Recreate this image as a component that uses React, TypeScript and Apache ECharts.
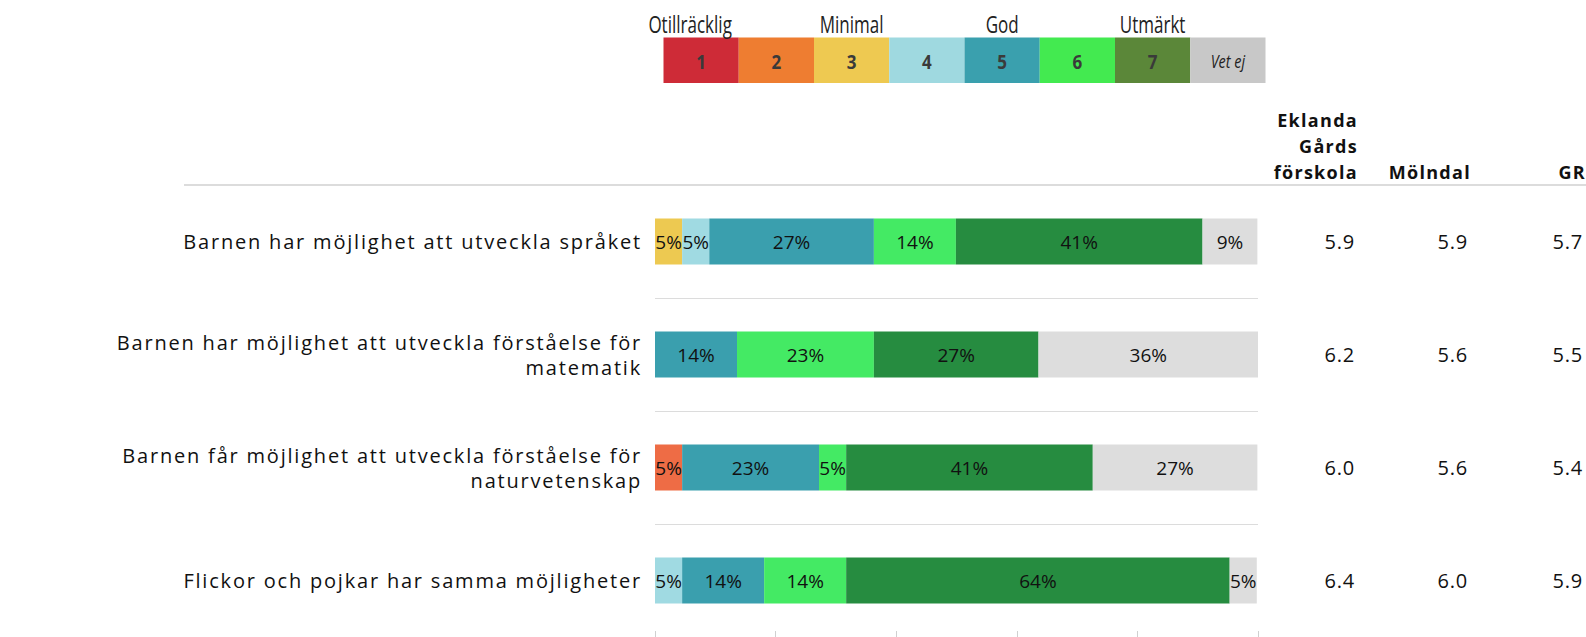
import React, { useEffect, useRef } from 'react';
import * as echarts from 'echarts';

const categories = [
  'Barnen har möjlighet att utveckla språket',
  'Barnen har möjlighet att utveckla förståelse för\nmatematik',
  'Barnen får möjlighet att utveckla förståelse för\nnaturvetenskap',
  'Flickor och pojkar har samma möjligheter',
];

const levelNames = ['1', '2', '3', '4', '5', '6', '7', 'Vet ej'];
const scaleWords = ['Otillräcklig', '', 'Minimal', '', 'God', '', 'Utmärkt', ''];

// share of answers (%) per level, per statement
const level1 = [null, null, null, null];
const level2 = [null, null, 4.5, null];
const level3 = [4.5, null, null, null];
const level4 = [4.5, null, null, 4.5];
const level5 = [27.3, 13.6, 22.7, 13.6];
const level6 = [13.6, 22.7, 4.5, 13.6];
const level7 = [40.9, 27.3, 40.9, 63.6];
const levelVetEj = [9.1, 36.4, 27.3, 4.5];

const columnHeaders = ['Eklanda\nGårds\nförskola', 'Mölndal', 'GR'];
const eklanda = [5.9, 6.2, 6.0, 6.4];
const molndal = [5.9, 5.6, 5.6, 6.0];
const gr = [5.7, 5.5, 5.4, 5.9];

const valueTicks = [0, 20, 40, 60, 80, 100];

const barColors = ['#CE2B37', '#EE6C45', '#EDC951', '#A0DAE2', '#3A9FAE', '#44EA64', '#268C40', '#DDDDDD'];
const legendColors = ['#CE2B37', '#EE7D31', '#EEC951', '#9FD9E0', '#3AA0AE', '#43EA50', '#5B8739', '#C8C8C8'];

// font stacks: the fallback names only serve to tell the groups apart for letter spacing
const FONT = '"Open Sans", sans-serif';
const CAT_FONT = '"Open Sans", "DejaVu Sans"';
const HEAD_FONT = '"Open Sans", "Liberation Sans"';
const VAL_FONT = '"Open Sans", Lato';

const css = `
text[style*="DejaVu Sans"] { letter-spacing: 1.8px; }
text[style*="Liberation Sans"] { letter-spacing: 1.3px; }
text[style*="Lato"] { letter-spacing: 0.8px; }
`;

export default function App() {
  const ref = useRef<HTMLDivElement>(null);
  useEffect(() => {
    if (!ref.current) return;
    const chart = echarts.init(ref.current, null, { renderer: 'svg' });
    const levels = [level1, level2, level3, level4, level5, level6, level7, levelVetEj];

    const gridLeft = 655;
    const gridRight = 325;
    const W = 1586;
    const plotRight = W - gridRight;
    const colRight = [1358, 1471, 1586];

    const valueAxis = (vals: number[], right: number) => ({
      type: 'category',
      data: categories,
      inverse: true,
      position: 'right',
      axisLine: { show: false },
      axisTick: { show: false },
      splitLine: { show: false },
      axisLabel: {
        margin: right - plotRight,
        align: 'right',
        fontSize: 20,
        color: '#111',
        fontFamily: VAL_FONT,
        formatter: (_v: string, i: number) => vals[i].toFixed(1),
      },
    });

    const cellX0 = 663.5;
    const cellW = 75.25;
    const cellY = 37.5;
    const cellH = 45.5;

    const graphic: any[] = [
      {
        type: 'line',
        shape: { x1: 184, y1: 185, x2: W, y2: 185 },
        style: { stroke: '#dcdcdc', lineWidth: 2 },
        z: 10,
      },
    ];
    levelNames.forEach((name, i) => {
      graphic.push({
        type: 'rect',
        shape: { x: cellX0 + i * cellW, y: cellY, width: cellW, height: cellH },
        style: { fill: legendColors[i] },
      });
      const isVet = name === 'Vet ej';
      graphic.push({
        type: 'text',
        x: cellX0 + (i + 0.5) * cellW,
        y: cellY + cellH / 2 + 1,
        scaleX: isVet ? 0.8 : 0.85,
        style: {
          text: name,
          fill: isVet ? '#222' : '#3a3a3a',
          font: isVet ? `italic 18px ${FONT}` : `bold 20px ${FONT}`,
          textAlign: 'center',
          textVerticalAlign: 'middle',
        },
      });
      if (scaleWords[i]) {
        graphic.push({
          type: 'text',
          x: cellX0 + (i + 0.5) * cellW - (i === 0 ? 11 : 0),
          y: 24,
          scaleX: 0.74,
          style: {
            text: scaleWords[i],
            fill: '#222',
            font: `23px ${FONT}`,
            textAlign: 'center',
            textVerticalAlign: 'middle',
          },
        });
      }
    });
    const headerRight = [1358, 1471, 1586];
    columnHeaders.forEach((h, i) => {
      graphic.push({
        type: 'text',
        x: headerRight[i],
        y: 185,
        style: {
          text: h,
          fill: '#111',
          font: `bold 18px ${HEAD_FONT}`,
          textAlign: 'right',
          textVerticalAlign: 'bottom',
          lineHeight: 26,
        },
      });
    });

    chart.setOption({
      animation: false,
      backgroundColor: '#fff',
      grid: { left: gridLeft, right: gridRight, top: 185, bottom: -2, containLabel: false },
      xAxis: {
        type: 'value',
        min: valueTicks[0],
        max: valueTicks[valueTicks.length - 1],
        interval: valueTicks[1] - valueTicks[0],
        axisLabel: { show: false },
        splitLine: { show: false },
        axisLine: { show: false },
        axisTick: { show: true, inside: true, length: 6, lineStyle: { color: '#d0d0d0' } },
      },
      yAxis: [
        {
          type: 'category',
          data: categories,
          inverse: true,
          axisLine: { show: false },
          axisTick: { show: false },
          splitLine: { show: true, lineStyle: { color: '#dcdcdc', width: 1 } },
          axisLabel: {
            margin: 13,
            fontSize: 20,
            lineHeight: 25,
            color: '#111',
            align: 'right',
            fontFamily: CAT_FONT,
          },
        },
        valueAxis(eklanda, colRight[0]),
        valueAxis(molndal, colRight[1]),
        valueAxis(gr, colRight[2]),
      ],
      series: levels.map((vals, i) => ({
        type: 'bar',
        name: levelNames[i],
        stack: 'total',
        yAxisIndex: 0,
        barWidth: 46,
        data: vals,
        itemStyle: { color: barColors[i] },
        label: {
          show: true,
          position: 'inside',
          color: '#111',
          fontSize: 19,
          fontFamily: FONT,
          formatter: (p: any) => `${Math.round(p.value)}%`,
        },
      })),
      graphic,
    });
    return () => chart.dispose();
  }, []);
  return (
    <>
      <style>{css}</style>
      <div
        ref={ref}
        style={{ position: 'fixed', left: 0, top: 0, width: 1586, height: 637 }}
      />
    </>
  );
}
